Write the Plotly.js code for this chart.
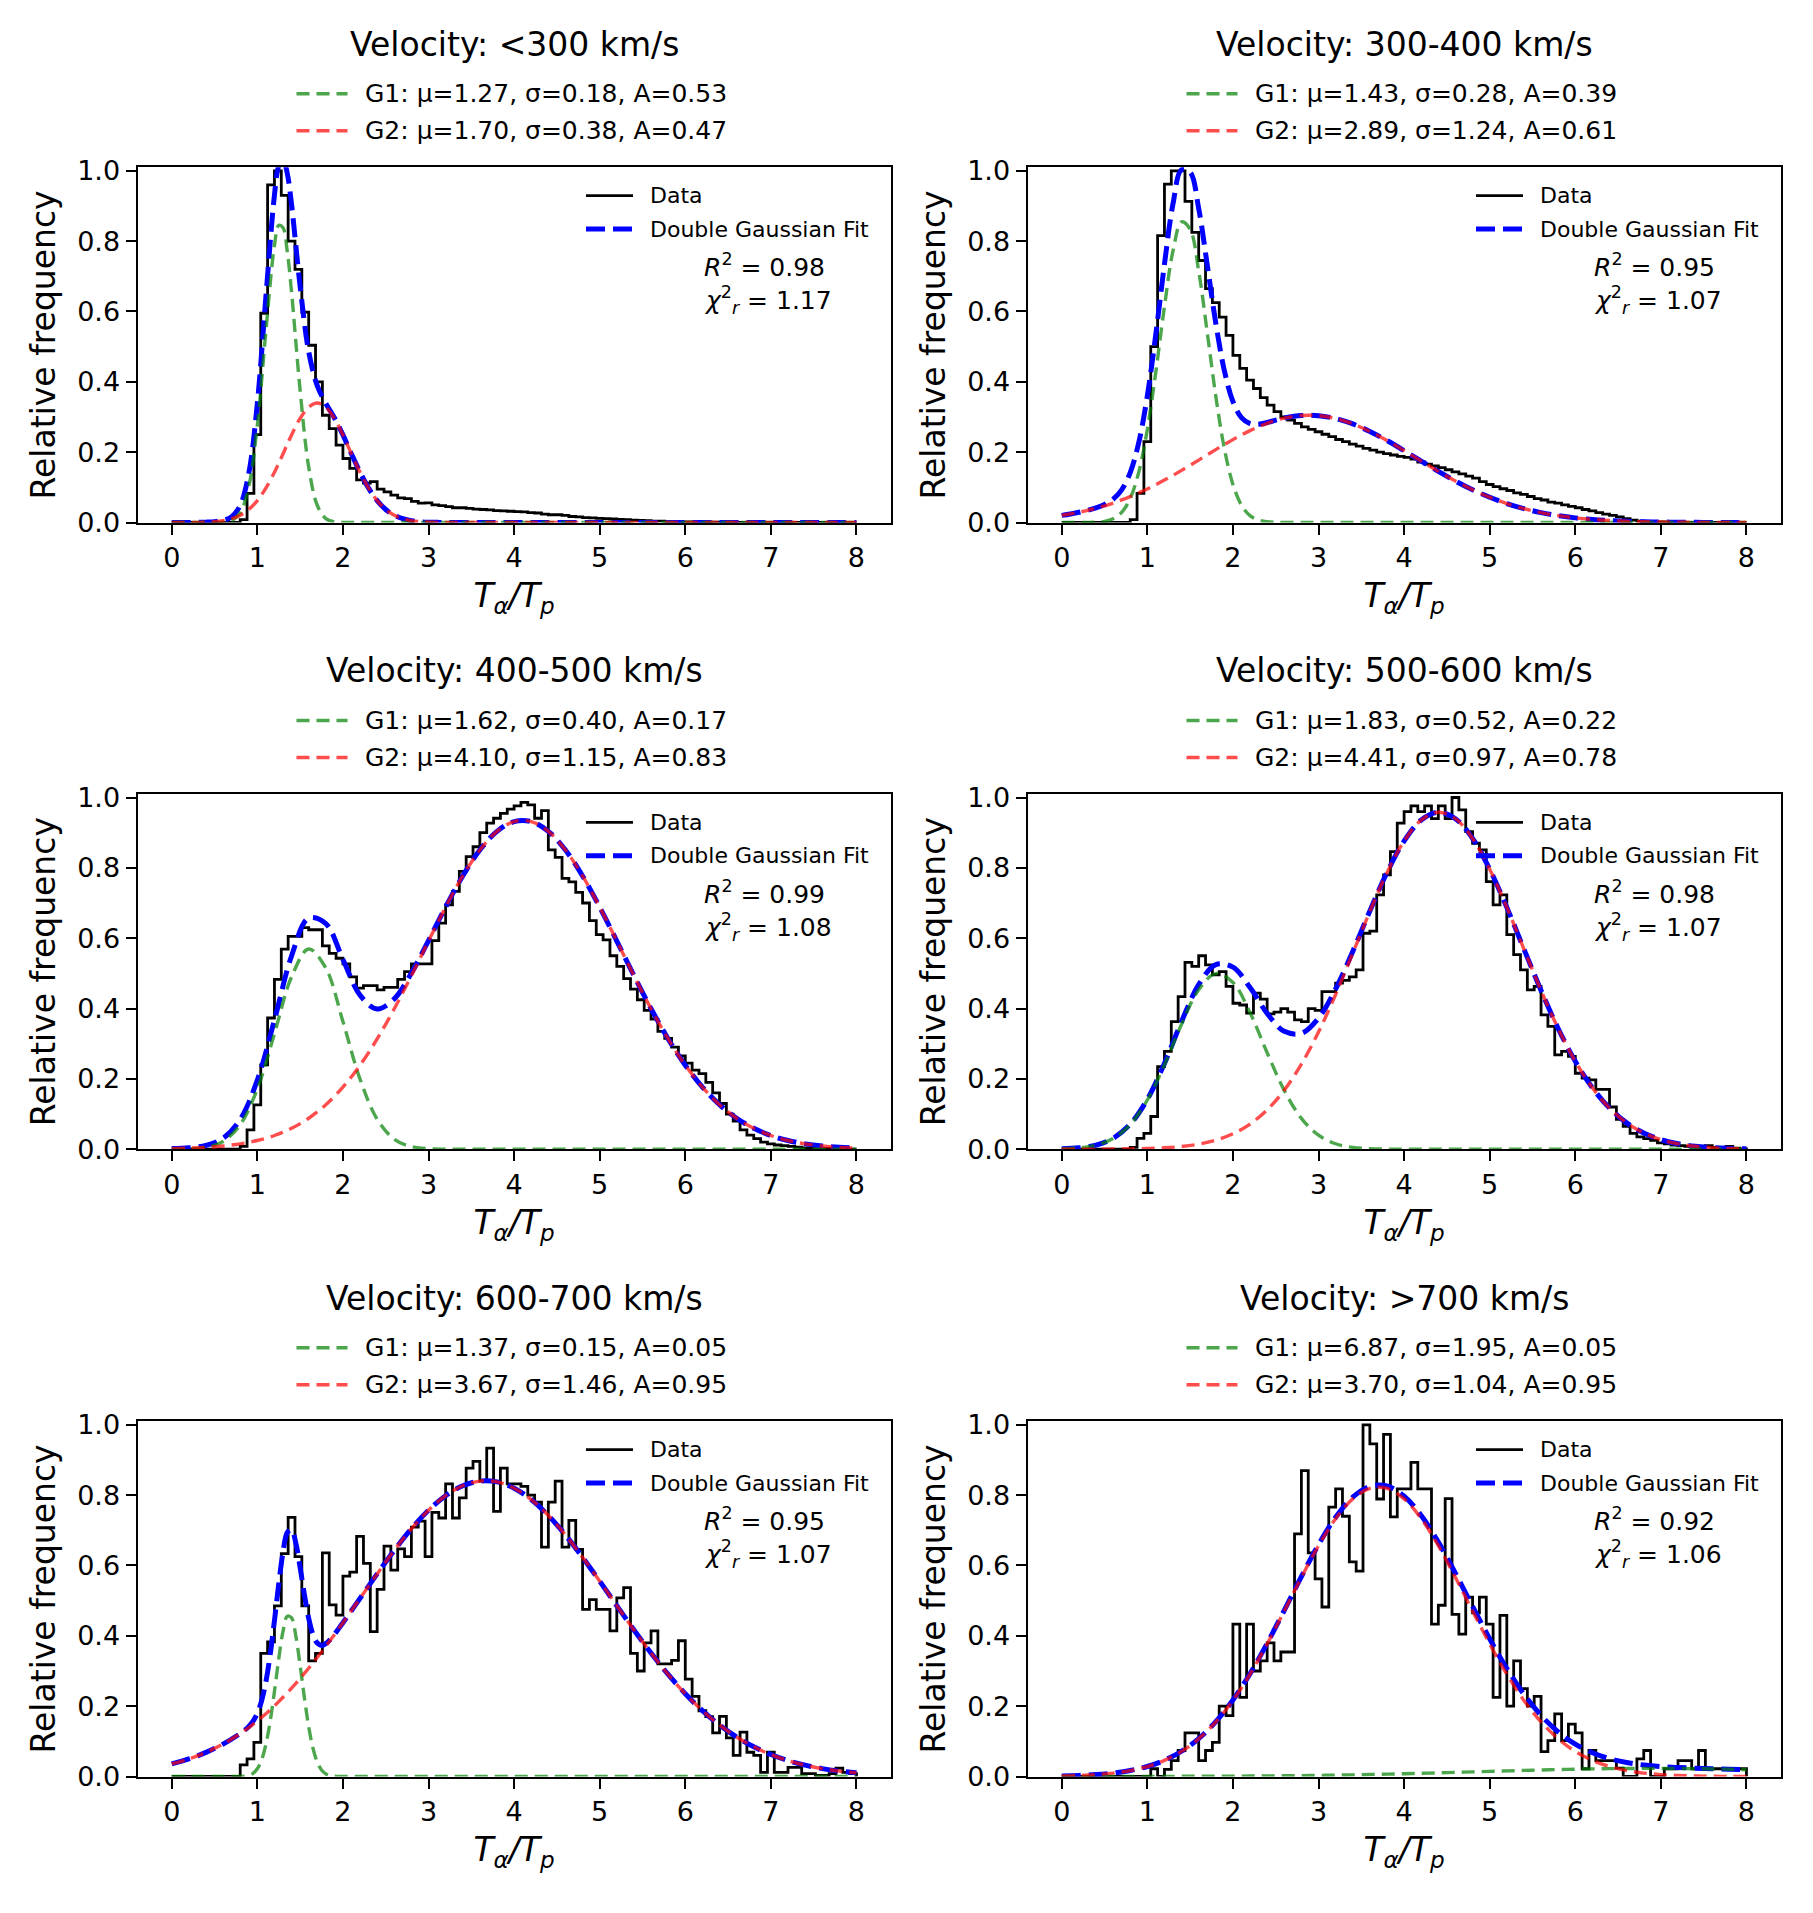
<!DOCTYPE html>
<html>
<head>
<meta charset="utf-8">
<script src="https://cdn.plot.ly/plotly-3.0.1.min.js"></script>
<style>
body { margin: 0; background: #fff; }
#plot { width: 1813px; height: 1913px; }
</style>
</head>
<body>
<div id="plot"></div>
<script>
// panel labels and fit parameters
var velocityBins = ['&lt;300', '300-400', '400-500', '500-600', '600-700', '&gt;700'];
var mu1 = [1.27, 1.43, 1.62, 1.83, 1.37, 6.87];
var sigma1 = [0.18, 0.28, 0.40, 0.52, 0.15, 1.95];
var amp1 = [0.53, 0.39, 0.17, 0.22, 0.05, 0.05];
var mu2 = [1.70, 2.89, 4.10, 4.41, 3.67, 3.70];
var sigma2 = [0.38, 1.24, 1.15, 0.97, 1.46, 1.04];
var amp2 = [0.47, 0.61, 0.83, 0.78, 0.95, 0.95];
var rSquared = [0.98, 0.95, 0.99, 0.98, 0.95, 0.92];
var chiReduced = [1.17, 1.07, 1.08, 1.07, 1.07, 1.06];

var xTicks = [0, 1, 2, 3, 4, 5, 6, 7, 8];
var yTicks = [0, 0.2, 0.4, 0.6, 0.8, 1.0];

// histograms: bin width 0.08 on [0, 8], values listed from the first non-empty bin
var binWidth = 0.08;
var histStart = [0.80, 0.80, 0.80, 0.80, 0.80, 1.04];
var hist1 = [0.008, 0.083, 0.25, 0.595, 0.96, 1.0, 0.93, 0.80, 0.72, 0.598, 0.504, 0.40, 0.305, 0.267,
  0.22, 0.182, 0.154, 0.121, 0.112, 0.116, 0.095, 0.087, 0.078, 0.070, 0.068, 0.060, 0.055, 0.056,
  0.050, 0.048, 0.045, 0.042, 0.042, 0.040, 0.038, 0.037, 0.036, 0.034, 0.033, 0.032, 0.031, 0.030,
  0.028, 0.027, 0.024, 0.022, 0.022, 0.020, 0.017, 0.016, 0.014, 0.013, 0.012, 0.011, 0.010, 0.009,
  0.008, 0.007, 0.006, 0.005, 0.004, 0.004, 0.003, 0.003, 0.002, 0.002, 0.002, 0.001, 0.001, 0.001,
  0.001, 0.001];
var hist2 = [0.008, 0.083, 0.23, 0.50, 0.816, 0.962, 1.0, 1.0, 0.913, 0.825, 0.745, 0.665, 0.625, 0.584,
  0.532, 0.475, 0.438, 0.405, 0.381, 0.355, 0.334, 0.315, 0.30, 0.291, 0.282, 0.272, 0.265, 0.258,
  0.251, 0.244, 0.236, 0.23, 0.223, 0.217, 0.211, 0.206, 0.20, 0.196, 0.192, 0.188, 0.185, 0.180,
  0.172, 0.166, 0.161, 0.156, 0.150, 0.144, 0.138, 0.132, 0.126, 0.116, 0.108, 0.102, 0.096, 0.091,
  0.084, 0.080, 0.074, 0.068, 0.064, 0.058, 0.055, 0.050, 0.046, 0.042, 0.037, 0.033, 0.028, 0.024,
  0.020, 0.016, 0.011, 0.007, 0.004, 0.003, 0.002, 0.002, 0.001, 0.001];
var hist3 = [0.008, 0.055, 0.126, 0.24, 0.373, 0.483, 0.569, 0.605, 0.605, 0.63, 0.624, 0.624, 0.578,
  0.557, 0.543, 0.527, 0.49, 0.458, 0.465, 0.465, 0.453, 0.46, 0.46, 0.483, 0.505, 0.527, 0.527, 0.527,
  0.593, 0.643, 0.695, 0.733, 0.79, 0.832, 0.86, 0.90, 0.927, 0.941, 0.955, 0.967, 0.976, 0.986, 0.979,
  0.941, 0.963, 0.851, 0.83, 0.77, 0.76, 0.73, 0.70, 0.65, 0.61, 0.595, 0.55, 0.52, 0.485, 0.455,
  0.425, 0.395, 0.37, 0.335, 0.315, 0.29, 0.265, 0.245, 0.225, 0.215, 0.19, 0.16, 0.13, 0.10, 0.08,
  0.055, 0.04, 0.03, 0.02, 0.015, 0.012, 0.01, 0.008, 0.006, 0.004, 0.003, 0.002, 0.002, 0.001];
var hist4 = [0.005, 0.031, 0.045, 0.093, 0.235, 0.278, 0.363, 0.434, 0.531, 0.52, 0.55, 0.524, 0.496,
  0.505, 0.463, 0.415, 0.41, 0.387, 0.444, 0.427, 0.385, 0.39, 0.40, 0.39, 0.368, 0.363, 0.40, 0.395,
  0.448, 0.448, 0.472, 0.48, 0.49, 0.51, 0.614, 0.62, 0.723, 0.78, 0.846, 0.927, 0.96, 0.976, 0.96,
  0.976, 0.94, 0.976, 0.94, 1.0, 0.965, 0.903, 0.87, 0.851, 0.761, 0.695, 0.723, 0.61, 0.553, 0.51,
  0.453, 0.463, 0.382, 0.349, 0.268, 0.278, 0.264, 0.216, 0.202, 0.197, 0.17, 0.17, 0.12, 0.085,
  0.065, 0.045, 0.035, 0.03, 0.025, 0.018, 0.015, 0.012, 0.01, 0.008, 0.006, 0.006, 0.01, 0.005,
  0.003, 0.008, 0.003, 0.001];
var hist5 = [0.033, 0.05, 0.097, 0.35, 0.383, 0.485, 0.634, 0.737, 0.625, 0.485, 0.329, 0.35, 0.636,
  0.488, 0.459, 0.57, 0.581, 0.683, 0.606, 0.412, 0.532, 0.655, 0.587, 0.647, 0.625, 0.709, 0.726,
  0.625, 0.751, 0.735, 0.832, 0.735, 0.792, 0.877, 0.896, 0.84, 0.934, 0.754, 0.877, 0.832, 0.832,
  0.825, 0.80, 0.78, 0.652, 0.78, 0.84, 0.652, 0.728, 0.646, 0.475, 0.503, 0.475, 0.475, 0.414, 0.508,
  0.537, 0.35, 0.30, 0.38, 0.414, 0.32, 0.32, 0.33, 0.386, 0.277, 0.228, 0.187, 0.17, 0.124, 0.171,
  0.11, 0.06, 0.126, 0.069, 0.06, 0.012, 0.069, 0.012, 0.012, 0.026, 0.026, 0.008, 0.008, 0.003,
  0.003, 0.008, 0.024, 0.012, 0.008];
var hist6 = [0.022, 0.0, 0.02, 0.045, 0.074, 0.124, 0.124, 0.045, 0.074, 0.097, 0.20, 0.173, 0.433,
  0.225, 0.433, 0.30, 0.329, 0.38, 0.329, 0.354, 0.354, 0.69, 0.87, 0.636, 0.562, 0.482, 0.766, 0.818,
  0.74, 0.61, 0.584, 1.0, 0.946, 0.789, 0.973, 0.738, 0.818, 0.818, 0.893, 0.818, 0.818, 0.433, 0.487,
  0.79, 0.461, 0.405, 0.51, 0.465, 0.51, 0.433, 0.225, 0.458, 0.20, 0.329, 0.25, 0.20, 0.228, 0.071,
  0.102, 0.178, 0.102, 0.149, 0.124, 0.022, 0.074, 0.045, 0.045, 0.045, 0.024, 0, 0, 0.05, 0.074, 0,
  0, 0.022, 0.022, 0.045, 0.045, 0.022, 0.074, 0.022, 0.022, 0.022, 0.022, 0.022, 0.022];

// fitted curves: sample positions and the G1, G2 and total values
var fitX1 = [0, 0.1, 0.2, 0.3, 0.4, 0.5, 0.6, 0.7, 0.8, 0.9, 1.0, 1.1, 1.2, 1.25, 1.3, 1.35, 1.4, 1.5,
  1.6, 1.7, 1.8, 1.9, 2.0, 2.1, 2.2, 2.3, 2.4, 2.5, 2.6, 2.7, 2.8, 2.9, 3.0, 3.1, 3.2, 3.6, 4, 5, 6, 7, 8];
var g1Fit1 = [0, 0, 0, 0, 0, 0.0001, 0.0008, 0.0057, 0.0281, 0.1027, 0.276, 0.544, 0.788, 0.845, 0.838,
  0.770, 0.655, 0.376, 0.158, 0.049, 0.011, 0.0019, 0.0002, 0, 0, 0, 0, 0, 0, 0, 0, 0, 0, 0, 0,
  0, 0, 0, 0, 0, 0];
var g2Fit1 = [0, 0.0001, 0.0001, 0.0004, 0.001, 0.0023, 0.0051, 0.0107, 0.0206, 0.037, 0.0623, 0.0977,
  0.143, 0.1687, 0.195, 0.2225, 0.249, 0.296, 0.328, 0.34, 0.328, 0.296, 0.249, 0.195, 0.143, 0.0977,
  0.0623, 0.037, 0.0206, 0.0107, 0.0051, 0.0023, 0.001, 0.0004, 0.0001, 0, 0, 0, 0, 0, 0];
var totalFit1 = [0, 0.0001, 0.0001, 0.0004, 0.001, 0.0024, 0.0059, 0.0164, 0.0487, 0.1397, 0.3383,
  0.6417, 0.931, 1.0137, 1.033, 0.9925, 0.904, 0.672, 0.486, 0.389, 0.339, 0.2979, 0.2492, 0.195,
  0.143, 0.0977, 0.0623, 0.037, 0.0206, 0.0107, 0.0051, 0.0023, 0.001, 0.0004, 0.0001, 0, 0, 0, 0, 0, 0];

var fitX2 = [0, 0.1, 0.2, 0.3, 0.4, 0.5, 0.6, 0.7, 0.8, 0.9, 1.0, 1.1, 1.2, 1.3, 1.4, 1.5, 1.6, 1.7,
  1.8, 1.9, 2.0, 2.1, 2.2, 2.3, 2.4, 2.5, 2.6, 2.8, 3.0, 3.2, 3.4, 3.6, 3.8, 4.0, 4.2, 4.4, 4.6, 4.8,
  5.0, 5.2, 5.4, 5.6, 5.8, 6.0, 6.2, 6.4, 6.6, 6.8, 7.0, 7.2, 7.4, 7.6, 7.8, 8.0];
var g1Fit2 = [0, 0, 0, 0.0003, 0.001, 0.0034, 0.0107, 0.0287, 0.0684, 0.1433, 0.2646, 0.4294, 0.6138,
  0.7721, 0.855, 0.8335, 0.7153, 0.5402, 0.3592, 0.2102, 0.1083, 0.0491, 0.0196, 0.0069, 0.0021,
  0.0006, 0.0001, 0, 0, 0, 0, 0, 0, 0, 0, 0, 0, 0, 0, 0, 0, 0, 0, 0, 0, 0, 0, 0, 0, 0, 0, 0, 0, 0];
var g2Fit2 = [0.0202, 0.0243, 0.029, 0.0344, 0.0406, 0.0476, 0.0554, 0.0641, 0.0737, 0.0842, 0.0954,
  0.1076, 0.1205, 0.134, 0.1482, 0.1627, 0.1775, 0.1925, 0.2073, 0.2218, 0.2357, 0.249, 0.2613, 0.2724,
  0.2821, 0.2903, 0.2968, 0.3042, 0.3038, 0.2956, 0.2803, 0.2589, 0.233, 0.2043, 0.1746, 0.1453,
  0.1178, 0.0931, 0.0717, 0.0538, 0.0393, 0.028, 0.0194, 0.0131, 0.0087, 0.0056, 0.0035, 0.0021,
  0.0013, 0.0007, 0.0004, 0.0002, 0.0001, 0.0001];
var totalFit2 = [0.0202, 0.0243, 0.029, 0.0347, 0.0416, 0.051, 0.0661, 0.0928, 0.1421, 0.2275, 0.36,
  0.537, 0.7343, 0.9061, 1.0032, 0.9962, 0.8928, 0.7327, 0.5665, 0.432, 0.344, 0.2981, 0.2809, 0.2793,
  0.2842, 0.2909, 0.2969, 0.3042, 0.3038, 0.2956, 0.2803, 0.2589, 0.233, 0.2043, 0.1746, 0.1453,
  0.1178, 0.0931, 0.0717, 0.0538, 0.0393, 0.028, 0.0194, 0.0131, 0.0087, 0.0056, 0.0035, 0.0021,
  0.0013, 0.0007, 0.0004, 0.0002, 0.0001, 0.0001];

var fitX3 = [0, 0.2, 0.4, 0.6, 0.8, 1.0, 1.2, 1.4, 1.6, 1.8, 2.0, 2.2, 2.4, 2.6, 2.8, 3.0, 3.2, 3.4,
  3.6, 3.8, 4.0, 4.2, 4.4, 4.6, 4.8, 5.0, 5.2, 5.4, 5.6, 5.8, 6.0, 6.2, 6.4, 6.6, 6.8, 7.0, 7.2, 7.4,
  7.6, 7.8, 8.0];
var g1Fit3 = [0.0002, 0.001, 0.0054, 0.0221, 0.0697, 0.1715, 0.3284, 0.49, 0.5693, 0.5151, 0.363,
  0.1992, 0.0852, 0.0283, 0.0074, 0.0015, 0.0002, 0, 0, 0, 0, 0, 0, 0, 0, 0, 0, 0, 0, 0, 0, 0, 0, 0,
  0, 0, 0, 0, 0, 0, 0];
var g2Fit3 = [0.0016, 0.003, 0.0053, 0.0091, 0.0152, 0.0247, 0.0389, 0.0594, 0.088, 0.1265, 0.1765,
  0.2388, 0.3135, 0.3993, 0.4935, 0.5918, 0.6884, 0.7769, 0.8507, 0.9037, 0.9315, 0.9315, 0.9037,
  0.8507, 0.7769, 0.6884, 0.5918, 0.4935, 0.3993, 0.3135, 0.2388, 0.1765, 0.1265, 0.088, 0.0594,
  0.0389, 0.0247, 0.0152, 0.0091, 0.0053, 0.003];
var totalFit3 = [0.0018, 0.004, 0.0107, 0.0312, 0.0849, 0.1962, 0.3673, 0.5494, 0.6573, 0.6416,
  0.5395, 0.438, 0.3987, 0.4276, 0.5009, 0.5933, 0.6886, 0.7769, 0.8507, 0.9037, 0.9315, 0.9315,
  0.9037, 0.8507, 0.7769, 0.6884, 0.5918, 0.4935, 0.3993, 0.3135, 0.2388, 0.1765, 0.1265, 0.088,
  0.0594, 0.0389, 0.0247, 0.0152, 0.0091, 0.0053, 0.003];

var fitX4 = fitX3;
var g1Fit4 = [0.001, 0.0037, 0.0114, 0.0305, 0.0703, 0.1399, 0.24, 0.3552, 0.4534, 0.4992, 0.474,
  0.3882, 0.2742, 0.1671, 0.0878, 0.0398, 0.0155, 0.0052, 0.0015, 0.0004, 0.0001, 0, 0, 0, 0, 0, 0,
  0, 0, 0, 0, 0, 0, 0, 0, 0, 0, 0, 0, 0, 0];
var g2Fit4 = [0, 0.0001, 0.0002, 0.0004, 0.0009, 0.002, 0.004, 0.0078, 0.0144, 0.0257, 0.0438, 0.0715,
  0.1119, 0.168, 0.2417, 0.3331, 0.44, 0.5571, 0.676, 0.7861, 0.8761, 0.9359, 0.958, 0.9398, 0.8836,
  0.7962, 0.6876, 0.5691, 0.4514, 0.3432, 0.2499, 0.1745, 0.1168, 0.0749, 0.0461, 0.0271, 0.0153,
  0.0083, 0.0043, 0.0021, 0.001];
var totalFit4 = [0.001, 0.0038, 0.0116, 0.0309, 0.0712, 0.1419, 0.244, 0.363, 0.4678, 0.5249, 0.5178,
  0.4597, 0.3861, 0.3351, 0.3295, 0.3729, 0.4555, 0.5623, 0.6775, 0.7865, 0.8762, 0.9359, 0.958,
  0.9398, 0.8836, 0.7962, 0.6876, 0.5691, 0.4514, 0.3432, 0.2499, 0.1745, 0.1168, 0.0749, 0.0461,
  0.0271, 0.0153, 0.0083, 0.0043, 0.0021, 0.001];

var fitX5 = [0, 0.2, 0.4, 0.6, 0.8, 0.85, 0.9, 0.95, 1.0, 1.05, 1.1, 1.15, 1.2, 1.25, 1.3, 1.35, 1.4,
  1.45, 1.5, 1.55, 1.6, 1.65, 1.7, 1.75, 1.8, 1.85, 1.9, 1.95, 2.0, 2.2, 2.4, 2.6, 2.8, 3.0, 3.2, 3.4,
  3.6, 3.8, 4.0, 4.2, 4.4, 4.6, 4.8, 5.0, 5.2, 5.4, 5.6, 5.8, 6.0, 6.2, 6.4, 6.6, 6.8, 7.0, 7.2, 7.4,
  7.6, 7.8, 8.0];
var g1Fit5 = [0, 0, 0, 0, 0.0003, 0.0011, 0.0034, 0.0091, 0.0219, 0.0472, 0.091, 0.1569, 0.242, 0.334,
  0.4125, 0.4559, 0.4509, 0.399, 0.316, 0.2239, 0.142, 0.0806, 0.0409, 0.0186, 0.0076, 0.0027, 0.0009,
  0.0003, 0.0001, 0, 0, 0, 0, 0, 0, 0, 0, 0, 0, 0, 0, 0, 0, 0, 0, 0, 0, 0, 0, 0, 0, 0, 0, 0, 0, 0,
  0, 0, 0];
var g2Fit5 = [0.0357, 0.0499, 0.0685, 0.0922, 0.1219, 0.1302, 0.139, 0.1483, 0.1579, 0.1681, 0.1786,
  0.1896, 0.201, 0.2129, 0.2252, 0.238, 0.2511, 0.2647, 0.2787, 0.2931, 0.3078, 0.323, 0.3384, 0.3542,
  0.3703, 0.3867, 0.4033, 0.4202, 0.4372, 0.5066, 0.5761, 0.643, 0.7043, 0.757, 0.7985, 0.8267, 0.84,
  0.8377, 0.8198, 0.7874, 0.7422, 0.6866, 0.6233, 0.5554, 0.4857, 0.4168, 0.351, 0.2901, 0.2354,
  0.1874, 0.1464, 0.1123, 0.0845, 0.0624, 0.0452, 0.0322, 0.0225, 0.0154, 0.0104];
var totalFit5 = [0.0357, 0.0499, 0.0685, 0.0922, 0.1222, 0.1313, 0.1424, 0.1574, 0.1798, 0.2153,
  0.2696, 0.3465, 0.443, 0.5469, 0.6377, 0.6939, 0.702, 0.6637, 0.5947, 0.517, 0.4498, 0.4036, 0.3793,
  0.3728, 0.3779, 0.3894, 0.4042, 0.4205, 0.4373, 0.5066, 0.5761, 0.643, 0.7043, 0.757, 0.7985,
  0.8267, 0.84, 0.8377, 0.8198, 0.7874, 0.7422, 0.6866, 0.6233, 0.5554, 0.4857, 0.4168, 0.351,
  0.2901, 0.2354, 0.1874, 0.1464, 0.1123, 0.0845, 0.0624, 0.0452, 0.0322, 0.0225, 0.0154, 0.0104];

var fitX6 = fitX3;
var g1Fit6 = [0, 0.0001, 0.0001, 0.0001, 0.0002, 0.0002, 0.0003, 0.0005, 0.0006, 0.0008, 0.001,
  0.0013, 0.0017, 0.0021, 0.0026, 0.0032, 0.0039, 0.0047, 0.0056, 0.0067, 0.0078, 0.009, 0.0103,
  0.0117, 0.0131, 0.0145, 0.0159, 0.0173, 0.0186, 0.0198, 0.0208, 0.0217, 0.0223, 0.0228, 0.023,
  0.023, 0.0227, 0.0222, 0.0214, 0.0205, 0.0194];
var g2Fit6 = [0.0015, 0.0029, 0.0054, 0.0097, 0.0169, 0.0283, 0.0458, 0.0713, 0.1072, 0.1551, 0.2164,
  0.2909, 0.3769, 0.4704, 0.566, 0.6562, 0.7331, 0.7895, 0.8192, 0.8192, 0.7895, 0.7331, 0.6562,
  0.566, 0.4704, 0.3769, 0.2909, 0.2164, 0.1551, 0.1072, 0.0713, 0.0458, 0.0283, 0.0169, 0.0097,
  0.0054, 0.0029, 0.0015, 0.0007, 0.0003, 0.0002];
var totalFit6 = [0.0016, 0.003, 0.0055, 0.0098, 0.0171, 0.0285, 0.0461, 0.0718, 0.1078, 0.1559,
  0.2174, 0.2922, 0.3786, 0.4725, 0.5686, 0.6594, 0.737, 0.7942, 0.8248, 0.8259, 0.7973, 0.7421,
  0.6665, 0.5777, 0.4835, 0.3914, 0.3068, 0.2337, 0.1737, 0.127, 0.0921, 0.0675, 0.0506, 0.0397,
  0.0327, 0.0284, 0.0256, 0.0237, 0.0221, 0.0208, 0.0196];

var hists = [hist1, hist2, hist3, hist4, hist5, hist6];
var fitXs = [fitX1, fitX2, fitX3, fitX4, fitX5, fitX6];
var g1Fits = [g1Fit1, g1Fit2, g1Fit3, g1Fit4, g1Fit5, g1Fit6];
var g2Fits = [g2Fit1, g2Fit2, g2Fit3, g2Fit4, g2Fit5, g2Fit6];
var totalFits = [totalFit1, totalFit2, totalFit3, totalFit4, totalFit5, totalFit6];

// figure geometry in pixels
var W = 1813, H = 1913;
var colLeft = [137.5, 1027.5];
var rowTop = [167.3, 794, 1421.3];
var axW = 753.2, axH = 355.2;
var FONT = 'DejaVu Sans, Verdana, sans-serif';

// line styles shared by the curves and their legend keys
var histLine = {color: '#000', width: 2.8};
var fitLine = {color: '#0000ff', width: 5, dash: '19px,8px'};
var g1Line = {color: 'rgba(0,128,0,0.7)', width: 3.4, dash: '13px,7px'};
var g2Line = {color: 'rgba(255,0,0,0.7)', width: 3.4, dash: '13px,7px'};

function px(x) { return x / W; }
function py(y) { return 1 - y / H; }

// step outline of a histogram over the full [0, 8] range
function stepOutline(values, start) {
    var offset = Math.round(start / binWidth);
    var xs = [0], ys = [0];
    for (var i = 0; i < 100; i++) {
        var k = i - offset;
        xs.push(+(i * binWidth).toFixed(2));
        ys.push(k >= 0 && k < values.length ? values[k] : 0);
    }
    xs.push(8);
    ys.push(0);
    return {x: xs, y: ys};
}

function withShape(line, shape) {
    return Object.assign({}, line, {shape: shape, smoothing: 1});
}

var data = [];
var layout = {
    width: W, height: H,
    margin: {l: 0, r: 0, t: 0, b: 0},
    paper_bgcolor: '#fff', plot_bgcolor: '#fff',
    font: {family: FONT, color: '#000'},
    showlegend: false,
    annotations: [],
    shapes: []
};

// a legend row: key line plus label, placed in figure pixels
function legendRow(line, x0, x1, textX, y, label, size) {
    layout.shapes.push({
        type: 'line', xref: 'paper', yref: 'paper',
        x0: px(x0), x1: px(x1), y0: py(y), y1: py(y),
        line: {color: line.color, width: line.width, dash: line.dash || 'solid'}
    });
    layout.annotations.push({
        text: label, showarrow: false, xref: 'paper', yref: 'paper',
        x: px(textX), y: py(y), xanchor: 'left', yanchor: 'middle',
        font: {size: size, family: FONT}
    });
}

for (var p = 0; p < 6; p++) {
    var col = p % 2, row = Math.floor(p / 2);
    var axLeft = colLeft[col], axTop = rowTop[row];
    var xa = p === 0 ? 'x' : 'x' + (p + 1);
    var ya = p === 0 ? 'y' : 'y' + (p + 1);
    var hs = stepOutline(hists[p], histStart[p]);
    var g1Label = 'G1: μ=' + mu1[p].toFixed(2) + ', σ=' + sigma1[p].toFixed(2) + ', A=' + amp1[p].toFixed(2);
    var g2Label = 'G2: μ=' + mu2[p].toFixed(2) + ', σ=' + sigma2[p].toFixed(2) + ', A=' + amp2[p].toFixed(2);

    data.push({x: hs.x, y: hs.y, xaxis: xa, yaxis: ya, mode: 'lines', name: 'Data',
        line: withShape(histLine, 'hv')});
    data.push({x: fitXs[p], y: totalFits[p], xaxis: xa, yaxis: ya, mode: 'lines',
        name: 'Double Gaussian Fit', line: withShape(fitLine, 'spline')});
    data.push({x: fitXs[p], y: g1Fits[p], xaxis: xa, yaxis: ya, mode: 'lines',
        name: g1Label, line: withShape(g1Line, 'spline')});
    data.push({x: fitXs[p], y: g2Fits[p], xaxis: xa, yaxis: ya, mode: 'lines',
        name: g2Label, line: withShape(g2Line, 'spline')});

    layout[p === 0 ? 'xaxis' : 'xaxis' + (p + 1)] = {
        domain: [px(axLeft), px(axLeft + axW)], anchor: ya,
        range: [-0.4, 8.4], tickvals: xTicks, ticktext: xTicks.map(String),
        ticks: 'outside', ticklen: 10, tickwidth: 2, tickcolor: '#000',
        showline: true, mirror: true, linecolor: '#000', linewidth: 2,
        showgrid: false, zeroline: false, automargin: false,
        tickfont: {size: 27, family: FONT},
        title: {text: '<i>T<sub>α</sub>/T<sub>p</sub></i>', font: {size: 33, family: FONT}, standoff: 12}
    };
    layout[p === 0 ? 'yaxis' : 'yaxis' + (p + 1)] = {
        domain: [py(axTop + axH), py(axTop)], anchor: xa,
        range: [0, 1.01], tickvals: yTicks, ticktext: yTicks.map(function (v) { return v.toFixed(1); }),
        ticks: 'outside', ticklen: 10, tickwidth: 2, tickcolor: '#000',
        showline: true, mirror: true, linecolor: '#000', linewidth: 2,
        showgrid: false, zeroline: false, automargin: false,
        tickfont: {size: 27, family: FONT},
        title: {text: 'Relative frequency', font: {size: 33, family: FONT}, standoff: 12}
    };

    // component legend above the axes
    legendRow(g1Line, axLeft + 159, axLeft + 210, axLeft + 225, axTop - 73.5, g1Label, 25);
    legendRow(g2Line, axLeft + 159, axLeft + 210, axLeft + 225, axTop - 36.5, g2Label, 25);
    // data / fit legend inside the axes
    legendRow(histLine, axLeft + 448.5, axLeft + 495.5, axLeft + 510, axTop + 28.4, 'Data', 22);
    legendRow(fitLine, axLeft + 448.5, axLeft + 495.5, axLeft + 510, axTop + 61.7, 'Double Gaussian Fit', 22);

    layout.annotations.push({
        text: 'Velocity: ' + velocityBins[p] + ' km/s', showarrow: false,
        xref: 'paper', yref: 'paper', x: px(axLeft + axW / 2), y: py(axTop - 123),
        xanchor: 'center', yanchor: 'middle', font: {size: 33, family: FONT}
    });
    layout.annotations.push({
        text: '<i>R</i><sup>2</sup> = ' + rSquared[p].toFixed(2), showarrow: false,
        xref: 'paper', yref: 'paper', x: px(axLeft + 564.5), y: py(axTop + 98.5),
        xanchor: 'left', yanchor: 'middle', font: {size: 25, family: FONT}
    });
    layout.annotations.push({
        text: '<i>χ</i><sup>2</sup><sub><i>r</i></sub> = ' + chiReduced[p].toFixed(2), showarrow: false,
        xref: 'paper', yref: 'paper', x: px(axLeft + 564.5), y: py(axTop + 133),
        xanchor: 'left', yanchor: 'middle', font: {size: 25, family: FONT}
    });
}

Plotly.newPlot('plot', data, layout, {displayModeBar: false, responsive: false});
</script>
</body>
</html>
